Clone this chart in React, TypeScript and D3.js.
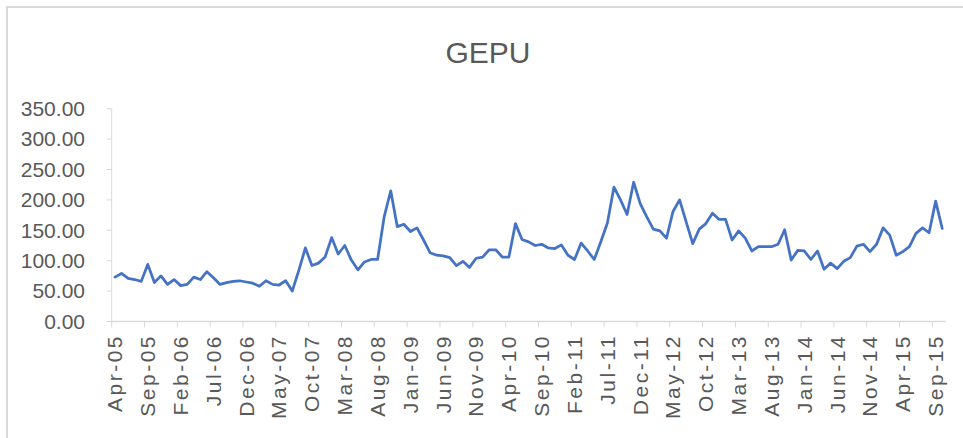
import React from "react";
import * as d3 from "d3";

const START_YEAR = 2005;
const START_MONTH = 3; // April (0-based)

const gepuValues: number[] = [
  73, 79, 71, 69, 66, 94, 64, 75, 61, 69,
  59, 61, 73, 69, 82, 72, 61, 64, 66, 67,
  65, 63, 58, 67, 61, 60, 67, 50, 84, 121,
  92, 96, 106, 138, 111, 125, 101, 85, 98, 102,
  102, 172, 215, 156, 160, 148, 154, 134, 113, 109,
  108, 105, 92, 99, 89, 104, 106, 118, 118, 106,
  106, 161, 135, 131, 125, 127, 121, 120, 126, 109,
  102, 129, 116, 102, 131, 162, 221, 200, 176, 229,
  194, 172, 152, 149, 137, 181, 200, 164, 128, 152,
  161, 178, 168, 168, 134, 149, 137, 116, 123, 123,
  123, 127, 151, 101, 117, 116, 102, 116, 86, 96,
  87, 99, 105, 124, 127, 115, 127, 154, 142, 109,
  115, 123, 145, 154, 146, 198, 153,
];

const tickLabels: string[] = [
  "Apr-05", "Sep-05", "Feb-06", "Jul-06", "Dec-06", "May-07", "Oct-07",
  "Mar-08", "Aug-08", "Jan-09", "Jun-09", "Nov-09", "Apr-10", "Sep-10",
  "Feb-11", "Jul-11", "Dec-11", "May-12", "Oct-12", "Mar-13", "Aug-13",
  "Jan-14", "Jun-14", "Nov-14", "Apr-15", "Sep-15",
];

const yTicks: number[] = [0, 50, 100, 150, 200, 250, 300, 350];

const categories: string[] = gepuValues.map((_, i) =>
  d3.timeFormat("%b-%y")(new Date(START_YEAR, START_MONTH + i, 1))
);

const TITLE = "GEPU";

export default function App() {
  const W = 963;
  const H = 438;
  const left = 111.7;
  const right = 945.5;
  const yBottom = 321.5;
  const yTop = 108.7;

  const x = d3.scaleBand<string>().domain(categories).range([left, right]).padding(0);
  const bw = x.bandwidth();
  const cx = (c: string) => (x(c) as number) + bw / 2;
  const y = d3.scaleLinear().domain([0, 350]).range([yBottom, yTop]);

  const line = d3
    .line<number>()
    .x((_, i) => cx(categories[i]))
    .y((d) => y(d));

  const axisColor = "#d9d9d9";
  const textColor = "#595959";
  const font = "'Liberation Sans', Arial, sans-serif";

  const tickIdx = tickLabels.map((t) => categories.indexOf(t));

  return (
    <svg
      width={W}
      height={H}
      style={{ position: "absolute", left: 0, top: 0, background: "#fff" }}
    >
      <rect x={0} y={0} width={W} height={H} fill="#fff" />
      <rect x={7} y={7} width={W + 20} height={H + 20} fill="none" stroke={axisColor} strokeWidth={2} />
      <text
        x={488}
        y={63}
        textAnchor="middle"
        fontFamily={font}
        fontSize={30}
        fill={textColor}
      >
        {TITLE}
      </text>

      {/* y axis */}
      <line x1={left} x2={left} y1={yTop} y2={yBottom} stroke={axisColor} strokeWidth={1} />
      {yTicks.map((t) => (
        <g key={t}>
          <line x1={left - 5} x2={left} y1={y(t)} y2={y(t)} stroke={axisColor} strokeWidth={1} />
          <text
            x={85}
            y={y(t)}
            dy="0.35em"
            textAnchor="end"
            fontFamily={font}
            fontSize={21}
            fill={textColor}
          >
            {d3.format(".2f")(t)}
          </text>
        </g>
      ))}

      {/* x axis */}
      <line x1={left} x2={right} y1={yBottom} y2={yBottom} stroke={axisColor} strokeWidth={1.5} />
      {tickIdx.map((idx) => (
        <line
          key={"t" + idx}
          x1={x(categories[idx]) as number}
          x2={x(categories[idx]) as number}
          y1={yBottom}
          y2={yBottom + 6}
          stroke={axisColor}
          strokeWidth={1}
        />
      ))}
      {tickLabels.map((lab) => (
        <text
          key={lab}
          transform={`translate(${cx(lab)},334) rotate(-90)`}
          dy="0.35em"
          textAnchor="end"
          fontFamily={font}
          fontSize={21}
          letterSpacing={2.5}
          fill={textColor}
        >
          {lab}
        </text>
      ))}

      <path
        d={line(gepuValues) || ""}
        fill="none"
        stroke="#4472C4"
        strokeWidth={2.75}
        strokeLinejoin="round"
        strokeLinecap="round"
      />
    </svg>
  );
}
